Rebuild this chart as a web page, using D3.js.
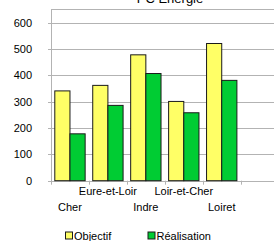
<!DOCTYPE html>
<html>
<head>
<meta charset="utf-8">
<script src="https://cdn.jsdelivr.net/npm/d3@7"></script>
<style>
  body { margin: 0; background: #fff; }
  svg { display: block; font-family: "Liberation Sans", Arial, sans-serif; }
</style>
</head>
<body>
<svg id="chart" width="274" height="241"></svg>
<script>
const categories = ["Cher", "Eure-et-Loir", "Indre", "Loir-et-Cher", "Loiret"];
const objectif = [341, 362, 478, 301, 521];
const realisation = [178, 286, 407, 258, 381];
const seriesNames = ["Objectif", "Réalisation"];
const yTicks = [0, 100, 200, 300, 400, 500, 600];

const width = 274;
const plotLeft = 51;
const plotTop = 9;
const plotBottom = 180.7;
const catRight = 240.7;

const svg = d3.select("#chart");
const gridColor = "#b3b3b3";
const fills = ["#ffff66", "#00cc33"];

const x = d3.scaleBand().domain(categories).range([plotLeft, catRight]);
const inner = d3.scaleBand().domain(seriesNames).range([0, x.bandwidth()]).paddingInner(0).paddingOuter(0.25);
const y = d3.scaleLinear().domain([0, 600]).range([plotBottom, 22.7]);

// title, cut off at the top
svg.append("text")
  .attr("x", 170)
  .attr("y", 3)
  .attr("text-anchor", "middle")
  .attr("font-size", 13)
  .attr("fill", "#000")
  .text("PC Energie");

// frame + gridlines
svg.append("line").attr("x1", plotLeft).attr("x2", width).attr("y1", plotTop + 0.5).attr("y2", plotTop + 0.5)
  .attr("stroke", gridColor);
svg.append("g")
  .selectAll("line")
  .data(yTicks)
  .join("line")
  .attr("x1", plotLeft - 3)
  .attr("x2", width)
  .attr("y1", (d) => Math.round(y(d)) + 0.5)
  .attr("y2", (d) => Math.round(y(d)) + 0.5)
  .attr("stroke", gridColor);
svg.append("line").attr("x1", plotLeft + 0.5).attr("x2", plotLeft + 0.5).attr("y1", plotTop).attr("y2", plotBottom + 3)
  .attr("stroke", gridColor);

// x ticks at category boundaries
svg.append("g")
  .selectAll("line")
  .data(categories.concat([null]))
  .join("line")
  .attr("x1", (d, i) => Math.round(plotLeft + i * x.step()) + 0.5)
  .attr("x2", (d, i) => Math.round(plotLeft + i * x.step()) + 0.5)
  .attr("y1", plotBottom)
  .attr("y2", plotBottom + 4)
  .attr("stroke", gridColor);

// y tick labels
svg.append("g")
  .selectAll("text")
  .data(yTicks)
  .join("text")
  .attr("x", 32)
  .attr("y", (d) => y(d) + 4)
  .attr("text-anchor", "end")
  .attr("font-size", 11)
  .attr("fill", "#000")
  .text((d) => d);

// bars
const rows = categories.map((c, i) => ({ cat: c, values: [objectif[i], realisation[i]] }));
const groups = svg.append("g")
  .selectAll("g")
  .data(rows)
  .join("g")
  .attr("transform", (d) => `translate(${x(d.cat)},0)`);
groups.selectAll("rect")
  .data((d) => d.values.map((v, j) => ({ name: seriesNames[j], value: v, j })))
  .join("rect")
  .attr("x", (d) => inner(d.name))
  .attr("y", (d) => y(d.value))
  .attr("width", inner.bandwidth())
  .attr("height", (d) => y(0) - y(d.value))
  .attr("fill", (d) => fills[d.j])
  .attr("stroke", "#1a1a1a")
  .attr("stroke-width", 1);

// staggered category labels
svg.append("g")
  .selectAll("text")
  .data(categories)
  .join("text")
  .attr("x", (d) => x(d) + x.bandwidth() / 2)
  .attr("y", (d, i) => (i % 2 === 0 ? 210.5 : 194.5))
  .attr("text-anchor", "middle")
  .attr("font-size", 11)
  .attr("fill", "#000")
  .text((d) => d);

// legend
const legend = svg.append("g");
[{ x: 65.5, label: seriesNames[0], color: fills[0] }, { x: 148, label: seriesNames[1], color: fills[1] }]
  .forEach((item) => {
    legend.append("rect")
      .attr("x", item.x).attr("y", 232)
      .attr("width", 7).attr("height", 7)
      .attr("fill", item.color).attr("stroke", "#1a1a1a");
    legend.append("text")
      .attr("x", item.x + 8.5).attr("y", 239.5)
      .attr("font-size", 11).attr("fill", "#000")
      .text(item.label);
  });
</script>
</body>
</html>
